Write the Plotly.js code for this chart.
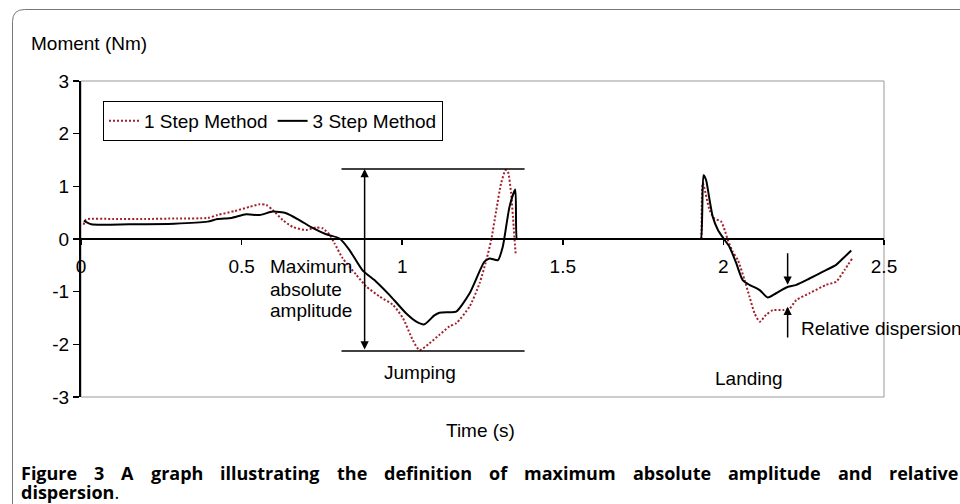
<!DOCTYPE html>
<html>
<head>
<meta charset="utf-8">
<script src="https://cdn.plot.ly/plotly-3.0.1.min.js"></script>
<style>html,body{margin:0;padding:0;background:#fff;}#chart{width:960px;height:504px;}</style>
</head>
<body>
<div id="chart"></div>
<script>
// ---- data ----
const seriesNames = ["1 Step Method", "3 Step Method"];

// 1 Step Method (dotted red)
const oneStepTime = [0.008, 0.016, 0.10, 0.20, 0.30, 0.395, 0.425, 0.478, 0.525, 0.556, 0.577, 0.597, 0.628, 0.659, 0.701, 0.732, 0.753, 0.774, 0.789, 0.815, 0.857, 0.888, 0.929, 0.971, 1.002, 1.033, 1.054, 1.085, 1.116, 1.147, 1.168, 1.210, 1.241, 1.262, 1.277, 1.293, 1.308, 1.322, 1.329, 1.339, 1.347, 1.353, 1.60, 1.932, 1.936, 1.957, 1.972, 1.993, 2.004, 2.014, 2.029, 2.045, 2.066, 2.081, 2.097, 2.113, 2.133, 2.154, 2.185, 2.206, 2.227, 2.268, 2.320, 2.351, 2.377, 2.401];
const oneStepMoment = [0.27, 0.37, 0.38, 0.38, 0.39, 0.40, 0.455, 0.53, 0.61, 0.66, 0.645, 0.55, 0.36, 0.23, 0.17, 0.22, 0.20, 0.08, -0.08, -0.37, -0.68, -0.90, -1.09, -1.25, -1.50, -1.92, -2.11, -1.98, -1.82, -1.66, -1.60, -1.28, -0.84, -0.40, -0.02, 0.55, 1.06, 1.31, 1.28, 0.87, 0.23, -0.27, null, 0, 1.06, 0.55, 0.39, 0.33, 0.17, -0.02, -0.24, -0.40, -0.78, -1.09, -1.41, -1.57, -1.44, -1.35, -1.35, -1.32, -1.16, -1.03, -0.87, -0.81, -0.59, -0.37];

// 3 Step Method (solid black)
const threeStepTime = [0.009, 0.032, 0.15, 0.29, 0.394, 0.425, 0.468, 0.514, 0.556, 0.597, 0.639, 0.680, 0.721, 0.763, 0.805, 0.836, 0.876, 0.919, 0.960, 1.012, 1.044, 1.069, 1.100, 1.116, 1.147, 1.168, 1.210, 1.256, 1.272, 1.298, 1.313, 1.334, 1.352, 1.357, 1.362, 1.45, 1.60, 1.75, 1.90, 1.925, 1.930, 1.938, 1.946, 1.957, 1.967, 1.983, 1.998, 2.019, 2.040, 2.060, 2.081, 2.113, 2.138, 2.164, 2.196, 2.227, 2.268, 2.310, 2.351, 2.372, 2.398];
const threeStepMoment = [0.35, 0.28, 0.28, 0.29, 0.33, 0.38, 0.40, 0.47, 0.455, 0.52, 0.49, 0.36, 0.21, 0.09, 0.01, -0.21, -0.59, -0.81, -1.06, -1.41, -1.57, -1.62, -1.45, -1.40, -1.39, -1.38, -1.03, -0.43, -0.37, -0.40, -0.15, 0.61, 0.94, 0.0, 0.0, 0.0, 0.0, 0.0, 0.0, 0.0, 0.0, 1.21, 1.12, 0.74, 0.42, 0.17, 0.03, -0.15, -0.46, -0.78, -0.87, -0.97, -1.11, -1.03, -0.92, -0.87, -0.75, -0.62, -0.49, -0.37, -0.22];

const xTickVals = [0, 0.5, 1, 1.5, 2, 2.5];
const xTickText = ["0", "0.5", "1", "1.5", "2", "2.5"];
const yTickVals = [-3, -2, -1, 0, 1, 2, 3];
const yTickText = ["-3", "-2", "-1", "0", "1", "2", "3"];

const captionLine1 = "Figure 3 A graph illustrating the definition of maximum absolute amplitude and relative";
const captionLine2 = "dispersion";

// ---- chart ----
const F = "Liberation Sans, Arial, sans-serif";
const FS = 19;
const RED = "#a3202a";
const CAPF = "Open Sans";
const CAPS = 18;

// pixel -> paper helpers (plot area: x 81..884, y 81..397)
const px = v => (v - 81) / 803;
const py = v => (397 - v) / 316;

const traces = [
  {x: oneStepTime, y: oneStepMoment, name: seriesNames[0], type: "scatter", mode: "lines",
   line: {color: RED, width: 2, dash: "2px,2px", shape: "spline", smoothing: 0.6}, connectgaps: false},
  {x: threeStepTime, y: threeStepMoment, name: seriesNames[1], type: "scatter", mode: "lines",
   line: {color: "#000", width: 2, shape: "spline", smoothing: 0.6}}
];

const ann = (text, x, y, opts) => Object.assign({text, x, y, xref: "x", yref: "y", showarrow: false,
  font: {family: F, size: FS, color: "#000"}}, opts || {});

// justified caption line 1 (word by word)
const ctx = document.createElement("canvas").getContext("2d");
ctx.font = `bold ${CAPS}px '${CAPF}'`;
const words = captionLine1.split(" ");
const widths = words.map(w => ctx.measureText(w).width);
const totalW = widths.reduce((a, b) => a + b, 0);
const lineLeft = 20, lineRight = 957;
const gap = (lineRight - lineLeft - totalW) / (words.length - 1);
const captionAnns = [];
let cx = lineLeft;
words.forEach((w, i) => {
  captionAnns.push({text: `<b>${w}</b>`, xref: "paper", yref: "paper", x: px(cx), y: py(473),
    xanchor: "left", yanchor: "middle", showarrow: false, borderpad: 0,
    font: {family: CAPF, size: CAPS, color: "#000"}});
  cx += widths[i] + gap;
});
captionAnns.push({text: `<b>${captionLine2}</b>.`, xref: "paper", yref: "paper", x: px(lineLeft), y: py(492),
  xanchor: "left", yanchor: "middle", showarrow: false, borderpad: 0,
  font: {family: CAPF, size: CAPS, color: "#000"}});

const layout = {
  width: 960, height: 504,
  margin: {l: 81, r: 76, t: 81, b: 107, pad: 0},
  paper_bgcolor: "#fff", plot_bgcolor: "#fff",
  showlegend: true,
  legend: {orientation: "h", x: px(103), y: py(101), xanchor: "left", yanchor: "top",
    bgcolor: "#fff", bordercolor: "#000", borderwidth: 1, itemwidth: 30,
    font: {family: F, size: FS, color: "#000"}, tracegroupgap: 0},
  xaxis: {range: [0, 2.5], anchor: "free", position: 0.5, showline: true, linecolor: "#000", linewidth: 2,
    ticks: "outside", ticklen: 5, tickwidth: 1.5, tickcolor: "#000", tickvals: xTickVals, ticktext: xTickText,
    showgrid: false, zeroline: false, tickfont: {family: F, size: FS, color: "#000"}, ticklabelstandoff: 5},
  yaxis: {range: [-3, 3], showline: true, linecolor: "#000", linewidth: 2,
    ticks: "outside", ticklen: 6, tickwidth: 1.5, tickcolor: "#000", tickvals: yTickVals, ticktext: yTickText,
    showgrid: false, zeroline: false, tickfont: {family: F, size: FS, color: "#000"}},
  shapes: [
    {type: "rect", xref: "paper", yref: "paper", x0: 0, x1: 1, y0: 0, y1: 1, line: {color: "#999", width: 1}, layer: "below"},
    {type: "line", xref: "x", yref: "y", x0: 0.811, x1: 1.381, y0: 1.33, y1: 1.33, line: {color: "#000", width: 1.5}},
    {type: "line", xref: "x", yref: "y", x0: 0.811, x1: 1.381, y0: -2.125, y1: -2.125, line: {color: "#000", width: 1.5}},
    {type: "path", xref: "paper", yref: "paper",
     path: `M ${px(12.5)},${py(504)} L ${px(12.5)},${py(21.5)} Q ${px(12.5)},${py(9.5)} ${px(24.5)},${py(9.5)} L ${px(962)},${py(9.5)}`,
     line: {color: "#777", width: 1}}
  ],
  annotations: [
    {x: 0.883, y: 1.33, ax: 0.883, ay: -2.125, xref: "x", yref: "y", axref: "x", ayref: "y", text: "",
     showarrow: true, arrowhead: 2, startarrowhead: 2, arrowside: "end+start", arrowsize: 1.1, arrowwidth: 1.5, arrowcolor: "#000",
     standoff: 0, startstandoff: 0},
    {x: 2.200, y: -0.87, ax: 2.200, ay: -0.24, xref: "x", yref: "y", axref: "x", ayref: "y", text: "",
     showarrow: true, arrowhead: 2, arrowsize: 1.1, arrowwidth: 1.5, arrowcolor: "#000"},
    {x: 2.200, y: -1.285, ax: 2.200, ay: -1.90, xref: "x", yref: "y", axref: "x", ayref: "y", text: "",
     showarrow: true, arrowhead: 2, arrowsize: 1.1, arrowwidth: 1.5, arrowcolor: "#000"},
    ann("Maximum", 0.581, -0.53, {xanchor: "left"}),
    ann("absolute", 0.581, -0.95, {xanchor: "left"}),
    ann("amplitude", 0.581, -1.36, {xanchor: "left"}),
    ann("Jumping", 1.054, -2.54),
    ann("Landing", 2.081, -2.64),
    ann("Relative dispersion", 2.234, -1.69, {xanchor: "left"}),
    {text: "Moment (Nm)", xref: "paper", yref: "paper", x: px(29), y: py(43), xanchor: "left", yanchor: "middle",
     showarrow: false, font: {family: F, size: FS, color: "#000"}},
    {text: "Time (s)", xref: "paper", yref: "paper", x: px(480), y: py(430), xanchor: "center", yanchor: "middle",
     showarrow: false, font: {family: F, size: FS, color: "#000"}}
  ].concat(captionAnns)
};

Plotly.newPlot("chart", traces, layout, {displayModeBar: false, staticPlot: true});
</script>
</body>
</html>
